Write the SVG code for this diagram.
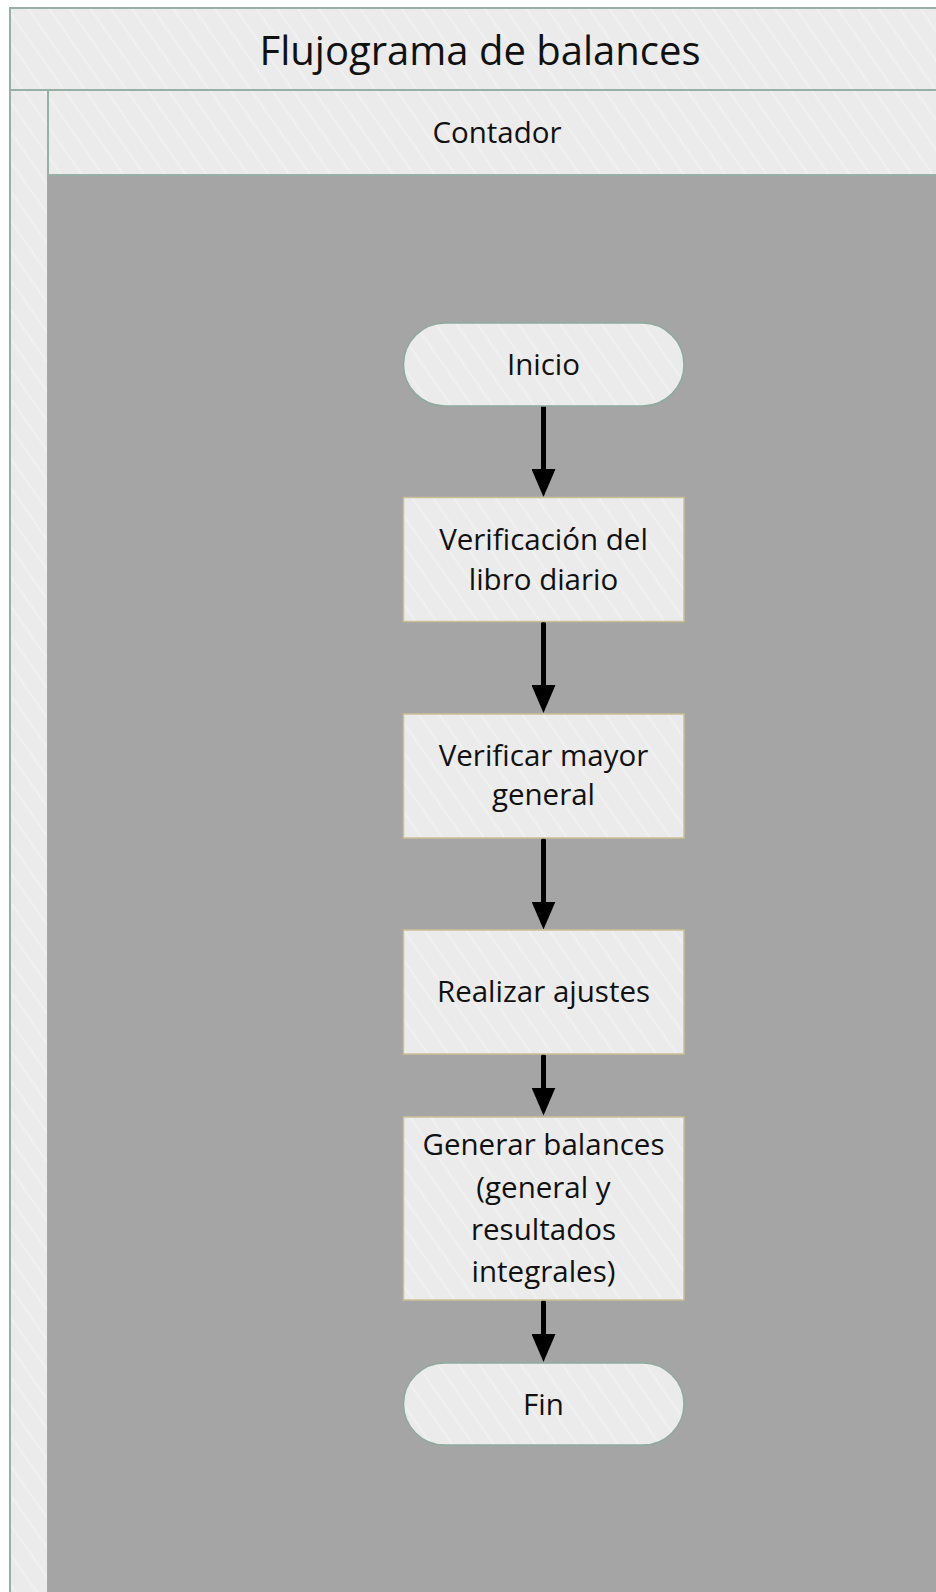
<svg xmlns="http://www.w3.org/2000/svg" width="936" height="1592" viewBox="0 0 936 1592">
  <style>
    .t { font-family: "Open Sans", "Noto Sans", "Liberation Sans", sans-serif; fill: #111; text-anchor: middle; }
    .title { font-size: 40px; }
    .lane { font-size: 29.5px; }
    .node { font-size: 29.5px; }
    .frame { fill: url(#hatch); stroke: #97afa5; stroke-width: 2; }
    .term { fill: url(#hatch); stroke: #8eaa9d; stroke-width: 1.5; }
    .proc { fill: url(#hatch); stroke: #cbbf96; stroke-width: 1.5; }
    .conn { stroke: #000; stroke-width: 5; stroke-linecap: round; fill: none; }
  </style>
  <defs>
    <pattern id="hatch" patternUnits="userSpaceOnUse" width="17" height="17" patternTransform="rotate(-35)">
      <rect width="17" height="17" fill="#ebebeb"/>
      <rect x="0" y="0" width="2" height="17" fill="#f0f0f0"/>
    </pattern>
    <marker id="arrow" markerUnits="userSpaceOnUse" markerWidth="28" markerHeight="24" refX="0" refY="12" orient="auto" viewBox="0 0 28 24">
      <path d="M0,0 L28,12 L0,24 z" fill="#000"/>
    </marker>
  </defs>

  <g id="pool">
    <rect class="frame" x="10" y="8" width="940" height="82"/>
    <text class="t title" x="480" y="65">Flujograma de balances</text>
  </g>
  <g id="lane-contador">
    <rect class="frame" x="10" y="90" width="38" height="1520"/>
    <rect class="frame" x="48" y="90" width="902" height="85"/>
    <rect x="48" y="176" width="902" height="1430" fill="#a5a5a5"/>
    <text class="t lane" x="497" y="143">Contador</text>
  </g>

  <g id="connectors">
    <line class="conn" x1="543.5" y1="405.5" x2="543.5" y2="469" marker-end="url(#arrow)"/>
    <line class="conn" x1="543.5" y1="624" x2="543.5" y2="685" marker-end="url(#arrow)"/>
    <line class="conn" x1="543.5" y1="840.5" x2="543.5" y2="901.5" marker-end="url(#arrow)"/>
    <line class="conn" x1="543.5" y1="1056.5" x2="543.5" y2="1087.5" marker-end="url(#arrow)"/>
    <line class="conn" x1="543.5" y1="1302.5" x2="543.5" y2="1334" marker-end="url(#arrow)"/>
  </g>

  <g id="inicio">
    <rect class="term" x="403.5" y="323" width="280.5" height="83" rx="41.5" ry="41.5"/>
    <text class="t node" x="543.5" y="375">Inicio</text>
  </g>
  <g id="verificacion-libro-diario">
    <rect class="proc" x="403.5" y="497.5" width="280.5" height="124"/>
    <text class="t node" x="543.5" y="550">Verificación del</text>
    <text class="t node" x="543.5" y="590">libro diario</text>
  </g>
  <g id="verificar-mayor-general">
    <rect class="proc" x="403.5" y="714" width="280.5" height="124"/>
    <text class="t node" x="543.5" y="766">Verificar mayor</text>
    <text class="t node" x="543.5" y="805">general</text>
  </g>
  <g id="realizar-ajustes">
    <rect class="proc" x="403.5" y="930" width="280.5" height="124"/>
    <text class="t node" x="543.5" y="1002">Realizar ajustes</text>
  </g>
  <g id="generar-balances">
    <rect class="proc" x="403.5" y="1117" width="280.5" height="183"/>
    <text class="t node" x="543.5" y="1155">Generar balances</text>
    <text class="t node" x="543.5" y="1198">(general y</text>
    <text class="t node" x="543.5" y="1240">resultados</text>
    <text class="t node" x="543.5" y="1282">integrales)</text>
  </g>
  <g id="fin">
    <rect class="term" x="403.5" y="1363" width="280.5" height="82" rx="41" ry="41"/>
    <text class="t node" x="543.5" y="1415">Fin</text>
  </g>
</svg>
